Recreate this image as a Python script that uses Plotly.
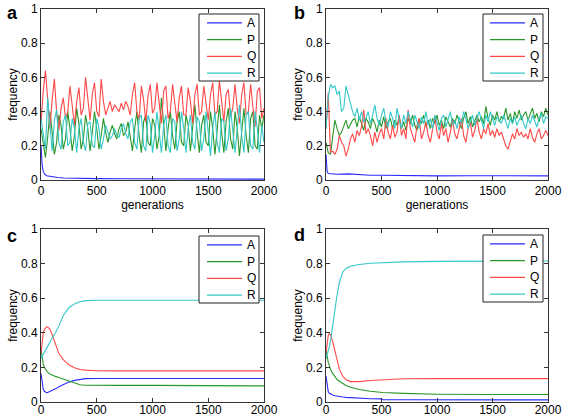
import plotly.graph_objects as go

# ---------------- data ----------------
generations = list(range(0, 2001, 20))  # sampled generations for panels a, b

# Panel a
a_gen_A = [0, 5, 10, 20, 30, 50, 75, 100, 150, 200, 300, 400, 500, 750, 1000, 1500, 2000]
a_A = [0.20, 0.13, 0.09, 0.05, 0.035, 0.025, 0.022, 0.02, 0.015, 0.012, 0.01, 0.009, 0.008,
       0.007, 0.006, 0.005, 0.005]
a_Q = [0.33, 0.52, 0.64, 0.44, 0.30, 0.47, 0.59, 0.40, 0.29, 0.42,
       0.48, 0.36, 0.40, 0.55, 0.42, 0.32, 0.46, 0.54, 0.38, 0.42,
       0.60, 0.45, 0.35, 0.50, 0.57, 0.40, 0.37, 0.59, 0.46, 0.38,
       0.42, 0.46, 0.40, 0.44, 0.42, 0.40, 0.45, 0.41, 0.46, 0.43,
       0.38, 0.50, 0.57, 0.40, 0.35, 0.55, 0.47, 0.34, 0.49, 0.56,
       0.39, 0.42, 0.57, 0.45, 0.33, 0.52, 0.55, 0.36, 0.40, 0.56,
       0.44, 0.34, 0.48, 0.55, 0.38, 0.38, 0.54, 0.46, 0.33, 0.50,
       0.56, 0.38, 0.40, 0.55, 0.45, 0.35, 0.50, 0.57, 0.38, 0.40,
       0.58, 0.44, 0.34, 0.50, 0.53, 0.37, 0.42, 0.56, 0.42, 0.33,
       0.50, 0.57, 0.38, 0.40, 0.56, 0.43, 0.31, 0.52, 0.54, 0.36,
       0.42]
a_P = [0.30, 0.20, 0.13, 0.25, 0.40, 0.28, 0.15, 0.22, 0.38, 0.32,
       0.18, 0.24, 0.40, 0.30, 0.17, 0.26, 0.42, 0.33, 0.18, 0.24,
       0.38, 0.30, 0.17, 0.28, 0.40, 0.30, 0.18, 0.26, 0.36, 0.28,
       0.22, 0.28, 0.32, 0.27, 0.24, 0.30, 0.33, 0.26, 0.28, 0.34,
       0.24, 0.17, 0.30, 0.40, 0.26, 0.16, 0.34, 0.38, 0.22, 0.20,
       0.36, 0.32, 0.18, 0.26, 0.48, 0.30, 0.17, 0.30, 0.40, 0.26,
       0.18, 0.34, 0.40, 0.22, 0.20, 0.38, 0.32, 0.17, 0.30, 0.44,
       0.28, 0.16, 0.32, 0.38, 0.22, 0.20, 0.40, 0.30, 0.15, 0.30,
       0.44, 0.28, 0.16, 0.34, 0.42, 0.24, 0.18, 0.40, 0.30, 0.14,
       0.28, 0.42, 0.26, 0.16, 0.36, 0.40, 0.20, 0.18, 0.38, 0.30,
       0.38]
a_R = [0.36, 0.26, 0.18, 0.48, 0.30, 0.17, 0.35, 0.41, 0.22, 0.18,
       0.34, 0.38, 0.20, 0.22, 0.36, 0.30, 0.16, 0.30, 0.36, 0.22,
       0.17, 0.33, 0.34, 0.20, 0.19, 0.36, 0.30, 0.18, 0.24, 0.32,
       0.28, 0.24, 0.26, 0.30, 0.26, 0.25, 0.30, 0.33, 0.27, 0.24,
       0.34, 0.36, 0.22, 0.18, 0.36, 0.38, 0.20, 0.17, 0.38, 0.33,
       0.16, 0.26, 0.40, 0.28, 0.16, 0.32, 0.38, 0.20, 0.16, 0.36,
       0.34, 0.17, 0.24, 0.40, 0.30, 0.16, 0.30, 0.38, 0.22, 0.18,
       0.37, 0.34, 0.17, 0.24, 0.40, 0.28, 0.14, 0.30, 0.40, 0.22,
       0.16, 0.36, 0.34, 0.17, 0.24, 0.42, 0.30, 0.16, 0.30, 0.44,
       0.26, 0.16, 0.38, 0.40, 0.20, 0.18, 0.40, 0.30, 0.16, 0.32,
       0.22]

# Panel b
b_gen_A = [0, 5, 10, 20, 50, 100, 200, 250, 300, 400, 500, 700, 1000, 1300, 1600, 2000]
b_A = [0.15, 0.08, 0.05, 0.038, 0.035, 0.034, 0.036, 0.033, 0.03, 0.028, 0.028, 0.025,
       0.024, 0.025, 0.024, 0.024]
b_P = [0.22, 0.16, 0.15, 0.26, 0.35, 0.30, 0.26, 0.28, 0.32, 0.35,
       0.30, 0.33, 0.35, 0.36, 0.31, 0.37, 0.33, 0.29, 0.36, 0.34,
       0.30, 0.36, 0.33, 0.28, 0.35, 0.31, 0.37, 0.30, 0.34, 0.36,
       0.30, 0.35, 0.32, 0.37, 0.30, 0.34, 0.29, 0.36, 0.33, 0.38,
       0.32, 0.29, 0.36, 0.33, 0.38, 0.31, 0.35, 0.30, 0.36, 0.33,
       0.38, 0.32, 0.35, 0.30, 0.37, 0.34, 0.31, 0.36, 0.33, 0.38,
       0.34, 0.30, 0.36, 0.40, 0.33, 0.37, 0.31, 0.35, 0.38, 0.34,
       0.37, 0.33, 0.43, 0.36, 0.32, 0.38, 0.35, 0.40, 0.34, 0.37,
       0.36, 0.42, 0.35, 0.39, 0.33, 0.40, 0.36, 0.41, 0.35, 0.38,
       0.40, 0.35, 0.38, 0.42, 0.36, 0.39, 0.34, 0.40, 0.37, 0.42,
       0.38]
b_Q = [0.30, 0.51, 0.16, 0.17, 0.15, 0.18, 0.26, 0.22, 0.20, 0.14,
       0.18, 0.24, 0.27, 0.22, 0.29, 0.26, 0.31, 0.41, 0.27, 0.30,
       0.26, 0.20, 0.28, 0.22, 0.27, 0.30, 0.24, 0.36, 0.28, 0.24,
       0.32, 0.25, 0.28, 0.38, 0.26, 0.30, 0.24, 0.41, 0.30, 0.26,
       0.22, 0.32, 0.36, 0.24, 0.28, 0.34, 0.26, 0.22, 0.30, 0.37,
       0.28, 0.24, 0.33, 0.26, 0.30, 0.22, 0.28, 0.35, 0.27, 0.24,
       0.30, 0.36, 0.26, 0.22, 0.30, 0.34, 0.25, 0.29, 0.36, 0.28,
       0.24, 0.30, 0.27, 0.33, 0.26, 0.29, 0.25, 0.30, 0.26, 0.28,
       0.24, 0.20, 0.18, 0.22, 0.27, 0.24, 0.30, 0.26, 0.28, 0.25,
       0.27, 0.24, 0.30, 0.25, 0.22, 0.27, 0.30, 0.24, 0.26, 0.29,
       0.26]
b_R = [0.30, 0.48, 0.56, 0.54, 0.55, 0.50, 0.52, 0.40, 0.42, 0.55,
       0.50, 0.44, 0.40, 0.37, 0.42, 0.35, 0.40, 0.34, 0.36, 0.40,
       0.33, 0.38, 0.44, 0.36, 0.32, 0.38, 0.42, 0.34, 0.31, 0.40,
       0.36, 0.30, 0.42, 0.35, 0.30, 0.38, 0.33, 0.40, 0.36, 0.31,
       0.38, 0.34, 0.30, 0.37, 0.33, 0.40, 0.32, 0.36, 0.30, 0.38,
       0.34, 0.29, 0.36, 0.38, 0.31, 0.35, 0.40, 0.32, 0.35, 0.30,
       0.37, 0.33, 0.40, 0.36, 0.30, 0.34, 0.38, 0.32, 0.36, 0.40,
       0.35, 0.30, 0.38, 0.34, 0.40, 0.36, 0.32, 0.37, 0.35, 0.33,
       0.38, 0.34, 0.30, 0.36, 0.33, 0.37, 0.32, 0.35, 0.38, 0.33,
       0.30, 0.36, 0.33, 0.38, 0.34, 0.31, 0.36, 0.39, 0.33, 0.37,
       0.36]

# Panel c
c_gen = [0, 10, 20, 30, 40, 50, 60, 80, 100, 130, 160, 200, 250, 300, 350, 400,
         500, 700, 1000, 1500, 1600, 2000]
c_A = [0.165, 0.10, 0.075, 0.062, 0.056, 0.054, 0.055, 0.06, 0.066, 0.076, 0.088, 0.102,
       0.115, 0.125, 0.132, 0.135, 0.136, 0.136, 0.136, 0.136, 0.136, 0.136]
c_P = [0.31, 0.26, 0.22, 0.20, 0.19, 0.18, 0.172, 0.162, 0.155, 0.148, 0.142, 0.133,
       0.12, 0.108, 0.10, 0.097, 0.096, 0.096, 0.096, 0.096, 0.093, 0.093]
c_Q = [0.28, 0.35, 0.40, 0.42, 0.43, 0.435, 0.434, 0.42, 0.39, 0.33, 0.28, 0.245,
       0.215, 0.198, 0.188, 0.184, 0.181, 0.18, 0.18, 0.18, 0.18, 0.18]
c_R = [0.25, 0.265, 0.28, 0.29, 0.30, 0.31, 0.32, 0.345, 0.37, 0.40, 0.44, 0.50,
       0.545, 0.567, 0.58, 0.586, 0.588, 0.588, 0.588, 0.588, 0.588, 0.588]

# Panel d
d_gen = [0, 10, 20, 30, 40, 60, 80, 100, 120, 150, 180, 220, 300, 400, 500, 510,
         700, 1000, 1500, 2000]
d_A = [0.15, 0.09, 0.06, 0.05, 0.045, 0.04, 0.036, 0.033, 0.031, 0.029, 0.027, 0.025,
       0.022, 0.019, 0.018, 0.013, 0.013, 0.012, 0.012, 0.012]
d_P = [0.30, 0.26, 0.23, 0.21, 0.19, 0.165, 0.145, 0.13, 0.12, 0.105, 0.095, 0.085,
       0.072, 0.062, 0.056, 0.055, 0.05, 0.045, 0.043, 0.043]
d_Q = [0.28, 0.35, 0.385, 0.395, 0.39, 0.35, 0.29, 0.23, 0.19, 0.15, 0.128, 0.118,
       0.118, 0.124, 0.128, 0.13, 0.134, 0.135, 0.135, 0.135]
d_R = [0.25, 0.27, 0.29, 0.32, 0.35, 0.43, 0.53, 0.62, 0.69, 0.75, 0.772, 0.785,
       0.795, 0.802, 0.806, 0.806, 0.81, 0.813, 0.814, 0.815]

series_names = ["A", "P", "Q", "R"]
series_colors = ["#2a2aff", "#2a962a", "#ff4848", "#35c8c8"]
panel_letters = ["a", "b", "c", "d"]

# ---------------- figure ----------------
W, H = 567, 417
font_family = "Liberation Sans, Arial, sans-serif"


def px_x(p):
    return p / W


def px_y(p):
    return 1 - p / H


fig = go.Figure()

panels = [
    ("x", "y", [(a_gen_A, a_A), (generations, a_P), (generations, a_Q), (generations, a_R)]),
    ("x2", "y2", [(b_gen_A, b_A), (generations, b_P), (generations, b_Q), (generations, b_R)]),
    ("x3", "y3", [(c_gen, c_A), (c_gen, c_P), (c_gen, c_Q), (c_gen, c_R)]),
    ("x4", "y4", [(d_gen, d_A), (d_gen, d_P), (d_gen, d_Q), (d_gen, d_R)]),
]

for xa, ya, data in panels:
    for name, color, (xs, ys) in zip(series_names, series_colors, data):
        fig.add_trace(go.Scatter(
            x=xs, y=ys, name=name, mode="lines",
            line=dict(color=color, width=1.1),
            xaxis=xa, yaxis=ya, showlegend=False,
        ))

axis_common = dict(
    showline=True, linecolor="#333333", linewidth=1, mirror="ticks",
    ticks="inside", ticklen=4, tickcolor="#333333", showgrid=False,
    zeroline=False, automargin=False,
    tickfont=dict(size=12, color="black", family=font_family),
)

xcols = [(41, 264), (326, 548)]
yrows = [(9, 180), (229, 402)]

layout_axes = {}
for i in range(4):
    col = i % 2
    row = i // 2
    suffix = "" if i == 0 else str(i + 1)
    xd = [px_x(xcols[col][0]), px_x(xcols[col][1])]
    yd = [px_y(yrows[row][1]), px_y(yrows[row][0])]
    xax = dict(axis_common, domain=xd, range=[0, 2000], tickvals=[0, 500, 1000, 1500, 2000],
               anchor="y" + suffix)
    if row == 0:
        xax["title"] = dict(text="generations", font=dict(size=12, family=font_family, color="black"),
                            standoff=0)
    else:
        xax["ticklabelstandoff"] = -3
    yax = dict(axis_common, domain=yd, range=[0, 1], tickvals=[0, 0.2, 0.4, 0.6, 0.8, 1],
               ticktext=["0", "0.2", "0.4", "0.6", "0.8", "1"], anchor="x" + suffix,
               title=dict(text="frequency", font=dict(size=12, family=font_family, color="black"),
                          standoff=0))
    layout_axes["xaxis" + suffix] = xax
    layout_axes["yaxis" + suffix] = yax

# legend boxes (pixel geometry): box left, box top, box right, box bottom, line start, line end
legend_geom = [
    (199, 14, 259, 81, 207, 242),
    (483, 14, 543, 81, 490, 525),
    (199, 236, 259, 303, 207, 242),
    (483, 235, 543, 302, 490, 525),
]

shapes = []
annotations = []
for (bl, bt, br, bb, l0, l1), letter in zip(legend_geom, panel_letters):
    shapes.append(dict(type="rect", xref="paper", yref="paper",
                       x0=px_x(bl), x1=px_x(br), y0=px_y(bb), y1=px_y(bt),
                       fillcolor="white", line=dict(color="#222222", width=1), layer="above"))
    step = (bb - bt) / 4.0
    for k, (name, color) in enumerate(zip(series_names, series_colors)):
        yc = bt + step * (k + 0.5) + 0.5
        shapes.append(dict(type="line", xref="paper", yref="paper",
                           x0=px_x(l0), x1=px_x(l1), y0=px_y(yc), y1=px_y(yc),
                           line=dict(color=color, width=1.1), layer="above"))
        annotations.append(dict(text=name, x=px_x(l1 + 3), y=px_y(yc), xref="paper", yref="paper",
                                xanchor="left", yanchor="middle", showarrow=False,
                                font=dict(size=12, family=font_family, color="black")))

letters = [("a", 12, 12.5), ("b", 299, 12.5), ("c", 12, 236), ("d", 299, 235)]
for t, lx, ly in letters:
    annotations.append(dict(text="<b>%s</b>" % t, x=px_x(lx), y=px_y(ly), xref="paper", yref="paper",
                            xanchor="center", yanchor="middle", showarrow=False, borderpad=0,
                            font=dict(size=18, family=font_family, color="black")))

fig.update_layout(
    width=W, height=H, margin=dict(l=0, r=0, t=0, b=0),
    paper_bgcolor="white", plot_bgcolor="white",
    font=dict(family=font_family, size=12, color="black"),
    annotations=annotations, shapes=shapes, showlegend=False,
    **layout_axes,
)

fig.write_html("out.html", config={"displayModeBar": False},
               post_script="document.body.style.margin='0';")
